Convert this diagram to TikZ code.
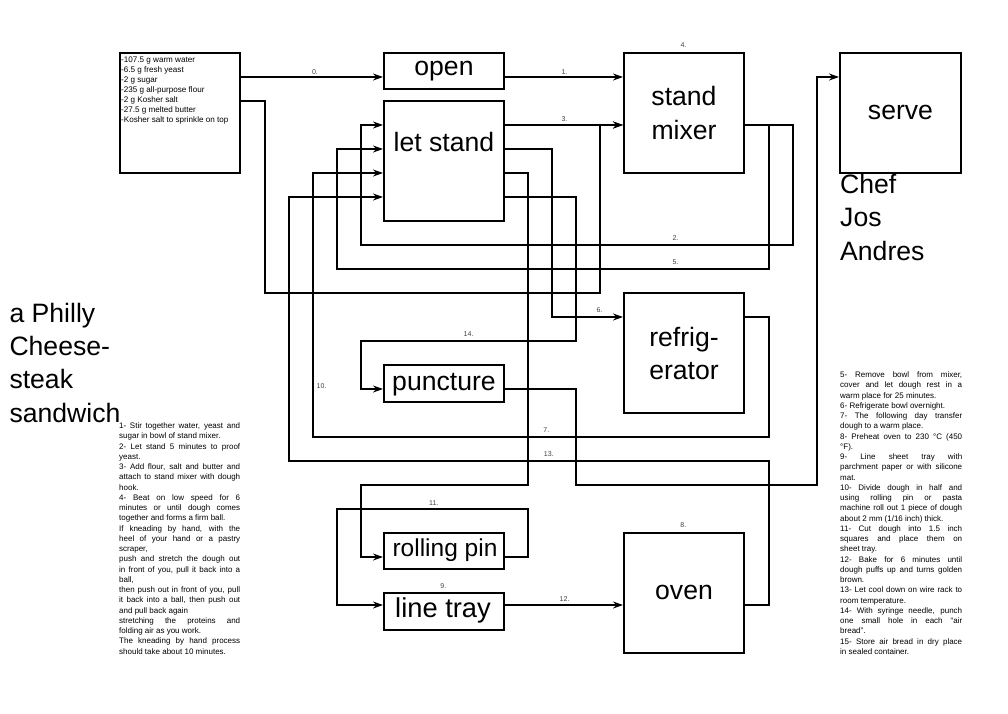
\documentclass[tikz,border=0pt]{standalone}
\usepackage{fontspec}
\setmainfont{Liberation Sans}
\usetikzlibrary{arrows.meta}

\newcommand\bigf{\fontsize{26.6pt}{33.4pt}\selectfont}
\newcommand\pinf{\fontsize{24.5pt}{30pt}\selectfont}
\newcommand\trayf{\fontsize{27.3pt}{33pt}\selectfont}
\newcommand\smallf{\fontsize{8pt}{10.25pt}\selectfont}
\newcommand\ingf{\fontsize{8.1pt}{10pt}\selectfont}
\newcommand\labf{\fontsize{7pt}{8pt}\selectfont}
\newcommand\linej[1]{\makebox[\linewidth][s]{#1}\par}
\newcommand\linel[1]{\mbox{#1}\par}

\begin{document}
\begin{tikzpicture}[x=1pt,y=-1pt,
  box/.style={draw=black, line width=2pt, inner sep=0pt},
  conn/.style={draw=black, line width=1.2pt, -{Stealth[length=10pt,width=7pt,inset=3.5pt]}},
  lab/.style={font=\labf, text=black!75, inner sep=0pt},
  txt/.style={inner sep=0pt, anchor=base},
  txtl/.style={inner sep=0pt, anchor=base west}]
\useasboundingbox (0,0) rectangle (1008,713);

% boxes
\node[box, minimum width=120pt, minimum height=120pt] (ing) at (180,113) {};
\node[box, minimum width=120pt, minimum height=36pt] (open) at (444,71) {};
\node[box, minimum width=120pt, minimum height=120pt] (letstand) at (444,161) {};
\node[box, minimum width=120pt, minimum height=120pt] (mixer) at (684,113) {};
\node[box, minimum width=121pt, minimum height=120pt] (serve) at (900.5,113) {};
\node[box, minimum width=120pt, minimum height=120pt] (fridge) at (684,353) {};
\node[box, minimum width=120pt, minimum height=37pt] (puncture) at (444,383) {};
\node[box, minimum width=120pt, minimum height=36pt] (rolling) at (444,551) {};
\node[box, minimum width=120pt, minimum height=37pt] (linetray) at (444,611.5) {};
\node[box, minimum width=120pt, minimum height=120pt] (oven) at (684,593) {};

% box texts
\node[txt, font=\bigf] (topen) at (open.center |- 0,75) {open};
\node[txt, font=\bigf] (tletstand) at (letstand.center |- 0,151.7) {let stand};
\node[txt] (tmixer) at (mixer.center |- 0,105.6) {\parbox[t]{120pt}{\bigf\centering stand\\mixer}};
\node[txt, font=\bigf] (tserve) at (serve.center |- 0,119) {serve};
\node[txt] (tfridge) at (fridge.center |- 0,346) {\parbox[t]{120pt}{\bigf\centering refrig-\\erator}};
\node[txt, font=\bigf] (tpuncture) at (puncture.center |- 0,390) {puncture};
\node[txt, font=\pinf] (trolling) at ([xshift=1pt]rolling.center |- 0,556.5) {rolling pin};
\node[txt, font=\trayf] (tlinetray) at ([xshift=-1pt]linetray.center |- 0,617) {line tray};
\node[txt, font=\bigf] (toven) at (oven.center |- 0,599) {oven};

% ingredients
\node[txtl] (ting) at (121,62.5) {\parbox[t]{118pt}{\ingf
\linel{-107.5 g warm water}
\linel{-6.5 g fresh yeast}
\linel{-2 g sugar}
\linel{-235 g all-purpose flour}
\linel{-2 g Kosher salt}
\linel{-27.5 g melted butter}
\linel{-Kosher salt to sprinkle on top}}};

% title and chef
\node[txtl] (title) at (9.3,322) {\parbox[t]{150pt}{\bigf a Philly\\Cheese-\\steak\\sandwich}};
\node[txtl] (chef) at (840,193.3) {\parbox[t]{150pt}{\bigf Chef\\Jos\\Andres}};

% left instructions
\node[txtl] (leftsteps) at (119,428.5) {\parbox[t]{121pt}{\smallf
\linej{1- Stir together water, yeast and}
\linel{sugar in bowl of stand mixer.}
\linej{2- Let stand 5 minutes to proof}
\linel{yeast.}
\linej{3- Add flour, salt and butter and}
\linej{attach to stand mixer with dough}
\linel{hook.}
\linej{4- Beat on low speed for 6}
\linej{minutes or until dough comes}
\linel{together and forms a firm ball.}
\linej{If kneading by hand, with the}
\linej{heel of your hand or a pastry}
\linel{scraper,}
\linej{push and stretch the dough out}
\linej{in front of you, pull it back into a}
\linel{ball,}
\linej{then push out in front of you, pull}
\linej{it back into a ball, then push out}
\linel{and pull back again}
\linej{stretching the proteins and}
\linel{folding air as you work.}
\linej{The kneading by hand process}
\linel{should take about 10 minutes.}}};

% right instructions
\node[txtl] (rightsteps) at (840,377.5) {\parbox[t]{122pt}{\smallf
\linej{5- Remove bowl from mixer,}
\linej{cover and let dough rest in a}
\linel{warm place for 25 minutes.}
\linel{6- Refrigerate bowl overnight.}
\linej{7- The following day transfer}
\linel{dough to a warm place.}
\linej{8- Preheat oven to 230 °C (450}
\linel{°F).}
\linej{9- Line sheet tray with}
\linej{parchment paper or with silicone}
\linel{mat.}
\linej{10- Divide dough in half and}
\linej{using rolling pin or pasta}
\linej{machine roll out 1 piece of dough}
\linel{about 2 mm (1/16 inch) thick.}
\linej{11- Cut dough into 1.5 inch}
\linej{squares and place them on}
\linel{sheet tray.}
\linej{12- Bake for 6 minutes until}
\linej{dough puffs up and turns golden}
\linel{brown.}
\linej{13- Let cool down on wire rack to}
\linel{room temperature.}
\linej{14- With syringe needle, punch}
\linej{one small hole in each “air}
\linel{bread”.}
\linej{15- Store air bread in dry place}
\linel{in sealed container.}}};

% connectors
\draw[conn] (ing.east |- 0,77) -- (open.west |- 0,77);
\draw[conn] (open.east |- 0,77) -- (mixer.west |- 0,77);
\draw[conn] (letstand.east |- 0,125) -- (mixer.west |- 0,125);
\draw[conn] (ing.east |- 0,101) -- (265,101) -- (265,293) -- (600,293) -- (600,125) -- (mixer.west |- 0,125);
\draw[conn] (mixer.east |- 0,125) -- (793,125) -- (793,245) -- (361,245) -- (361,125) -- (letstand.west |- 0,125);
\draw[conn] (mixer.east |- 0,125) -- (769,125) -- (769,269) -- (337,269) -- (337,149) -- (letstand.west |- 0,149);
\draw[conn] (letstand.east |- 0,149) -- (552,149) -- (552,317) -- (fridge.west |- 0,317);
\draw[conn] (fridge.east |- 0,317) -- (769,317) -- (769,437) -- (313,437) -- (313,173) -- (letstand.west |- 0,173);
\draw[conn] (letstand.east |- 0,173) -- (528,173) -- (528,485) -- (361,485) -- (361,557) -- (rolling.west |- 0,557);
\draw[conn] (rolling.east |- 0,557) -- (528,557) -- (528,509) -- (337,509) -- (337,605) -- (linetray.west |- 0,605);
\draw[conn] (linetray.east |- 0,605) -- (oven.west |- 0,605);
\draw[conn] (oven.east |- 0,605) -- (769,605) -- (769,461) -- (289,461) -- (289,197) -- (letstand.west |- 0,197);
\draw[conn] (letstand.east |- 0,197) -- (576,197) -- (576,341) -- (361,341) -- (361,389) -- (puncture.west |- 0,389);
\draw[conn] (puncture.east |- 0,389) -- (576,389) -- (576,485) -- (817,485) -- (817,77) -- (serve.west |- 0,77);

% connector labels
\node[lab] (l0) at (315,71.7) {0.};
\node[lab] (l1) at (564.5,71.7) {1.};
\node[lab] (l2) at (675.5,238.5) {2.};
\node[lab] (l3) at (564.5,119.3) {3.};
\node[lab] (l4) at (683.5,45) {4.};
\node[lab] (l5) at (675.5,262.5) {5.};
\node[lab] (l6) at (599.5,310.5) {6.};
\node[lab] (l7) at (546.4,430.5) {7.};
\node[lab] (l8) at (683.3,525.5) {8.};
\node[lab] (l9) at (443.3,585.7) {9.};
\node[lab] (l10) at (321.6,386) {10.};
\node[lab] (l11) at (433.8,503.3) {11.};
\node[lab] (l12) at (564.6,599.3) {12.};
\node[lab] (l13) at (548.8,454.5) {13.};
\node[lab] (l14) at (468.6,334.5) {14.};
\end{tikzpicture}
\end{document}
